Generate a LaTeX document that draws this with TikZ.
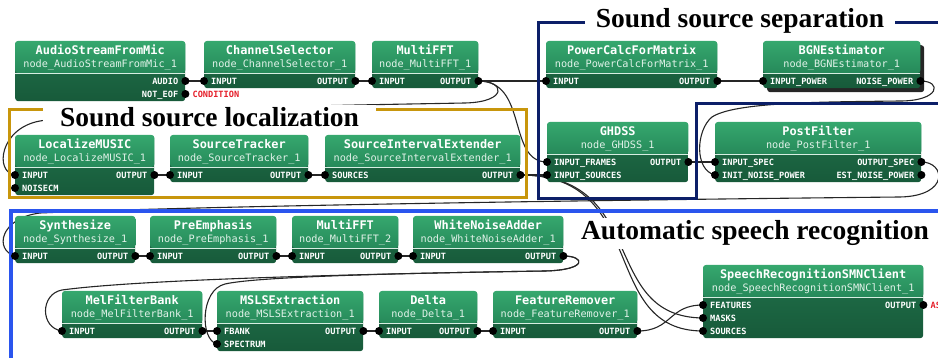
\documentclass[tikz,border=0pt]{standalone}
\usepackage{fontspec}
\setmonofont{DejaVu Sans Mono}
\newfontfamily\grpfont{Liberation Serif}
\usetikzlibrary{shadows}
\definecolor{headtop}{HTML}{36A86E}
\definecolor{headbot}{HTML}{26895A}
\definecolor{bodytop}{HTML}{21724B}
\definecolor{bodybot}{HTML}{175A3A}
\definecolor{locgold}{HTML}{C8960C}
\definecolor{sepnavy}{HTML}{0C1F68}
\definecolor{asrblue}{HTML}{2A55EE}
\definecolor{condred}{HTML}{E5202B}
\pgfdeclarelayer{wires}
\pgfsetlayers{wires,main}
\tikzset{
	blockbody/.style={rounded corners=3pt, top color=bodytop, bottom color=bodybot, anchor=north west, inner sep=0pt},
	blockhead/.style={rounded corners=3pt, top color=headtop, bottom color=headbot},
	sepline/.style={draw=white!80!headtop, line width=0.9pt},
	blocktitle/.style={text=white, font=\ttfamily\bfseries\fontsize{11.9}{12}\selectfont, anchor=base, inner sep=0pt},
	blocksub/.style={text=white!85!headtop, font=\ttfamily\fontsize{10.2}{11}\selectfont, anchor=base, inner sep=0pt},
	portdot/.style={circle, fill=black, inner sep=0pt, minimum size=8pt},
	portlabel/.style={text=white, font=\ttfamily\bfseries\fontsize{8.6}{9}\selectfont, inner sep=0pt},
	wire/.style={draw=black!85, line width=1.1pt},
	grplabel/.style={font=\grpfont\bfseries\fontsize{27.5}{30}\selectfont, anchor=base, fill=white, inner ysep=3pt},
}
\newcommand{\hblock}[8][]{%
	\pgfmathsetmacro{\blockh}{34+13*#6}
	\node[blockbody, minimum width=#5pt, minimum height=\blockh pt, #1] (#2) at (#3,#4) {};
	\path[blockhead] ([yshift=-32pt]#2.north west) -- (#2.north west) -- (#2.north east) -- ([yshift=-32pt]#2.north east) -- cycle;
	\draw[sepline] ([yshift=-32pt]#2.north west) -- ([yshift=-32pt]#2.north east);
	\node[blocktitle] at ([yshift=-14pt]#2.north) {#7};
	\node[blocksub] at ([yshift=-26.5pt]#2.north) {#8};
}
\newcommand{\inport}[4]{%
	\pgfmathsetmacro{\porty}{27+13*#2}
	\node[portdot] (#3) at ([yshift=-\porty pt]#1.north west) {};
	\node[portlabel, anchor=base west] (#3-t) at ([xshift=7pt, yshift=-3.5pt]#3.center) {#4};
}
\newcommand{\outport}[4]{%
	\pgfmathsetmacro{\porty}{27+13*#2}
	\node[portdot] (#3) at ([yshift=-\porty pt]#1.north east) {};
	\node[portlabel, anchor=base east] (#3-t) at ([xshift=-7pt, yshift=-3.5pt]#3.center) {#4};
}
\begin{document}
\begin{tikzpicture}[x=1pt,y=-1pt]
	\useasboundingbox (0,0) rectangle (938,358);
	\draw[locgold, line width=3pt] (9.5,109.5) rectangle (526,198);
	\node[grplabel, inner xsep=17pt] (loclabel) at (209.5,127) {Sound source localization};
	\draw[sepnavy, line width=3pt] (945,22.5) -- (538,22.5) -- (538,198.5) -- (696.5,198.5) -- (696.5,104) -- (945,104);
	\node[grplabel, inner xsep=11pt] (seplabel) at (740,28) {Sound source separation};
	\draw[asrblue, line width=4pt] (10.5,365) -- (10.5,211) -- (945,211);
	\node[grplabel, inner xsep=2pt] (asrlabel) at (755,240) {Automatic speech recognition};
	\hblock{mic}{15}{41}{170}{2}{AudioStreamFromMic}{node\_AudioStreamFromMic\_1}
	\outport{mic}{1}{mic-audio}{AUDIO}
	\outport{mic}{2}{mic-eof}{NOT\_EOF}
	\node[portlabel, text=condred, anchor=base west] (cond) at ([xshift=7pt, yshift=-3.5pt]mic-eof.center) {CONDITION};
	\hblock{chsel}{204}{41}{151}{1}{ChannelSelector}{node\_ChannelSelector\_1}
	\inport{chsel}{1}{chsel-in}{INPUT}
	\outport{chsel}{1}{chsel-out}{OUTPUT}
	\hblock{fftone}{372}{41}{106}{1}{MultiFFT}{node\_MultiFFT\_1}
	\inport{fftone}{1}{fftone-in}{INPUT}
	\outport{fftone}{1}{fftone-out}{OUTPUT}
	\hblock{pcm}{546}{41}{171}{1}{PowerCalcForMatrix}{node\_PowerCalcForMatrix\_1}
	\inport{pcm}{1}{pcm-in}{INPUT}
	\outport{pcm}{1}{pcm-out}{OUTPUT}
	\hblock[drop shadow={shadow xshift=4pt, shadow yshift=-4pt, fill=black, opacity=0.85}]{bgn}{763}{41}{157}{1}{BGNEstimator}{node\_BGNEstimator\_1}
	\inport{bgn}{1}{bgn-in}{INPUT\_POWER}
	\outport{bgn}{1}{bgn-out}{NOISE\_POWER}
	\hblock{music}{15}{135}{139}{2}{LocalizeMUSIC}{node\_LocalizeMUSIC\_1}
	\inport{music}{1}{music-in}{INPUT}
	\inport{music}{2}{music-ncm}{NOISECM}
	\outport{music}{1}{music-out}{OUTPUT}
	\hblock{track}{170}{135}{138}{1}{SourceTracker}{node\_SourceTracker\_1}
	\inport{track}{1}{track-in}{INPUT}
	\outport{track}{1}{track-out}{OUTPUT}
	\hblock{sie}{325}{135}{195}{1}{SourceIntervalExtender}{node\_SourceIntervalExtender\_1}
	\inport{sie}{1}{sie-in}{SOURCES}
	\outport{sie}{1}{sie-out}{OUTPUT}
	\hblock{ghdss}{547}{122}{141}{2}{GHDSS}{node\_GHDSS\_1}
	\inport{ghdss}{1}{ghdss-fr}{INPUT\_FRAMES}
	\inport{ghdss}{2}{ghdss-src}{INPUT\_SOURCES}
	\outport{ghdss}{1}{ghdss-out}{OUTPUT}
	\hblock{pf}{715}{122}{206}{2}{PostFilter}{node\_PostFilter\_1}
	\inport{pf}{1}{pf-spec}{INPUT\_SPEC}
	\inport{pf}{2}{pf-init}{INIT\_NOISE\_POWER}
	\outport{pf}{1}{pf-out}{OUTPUT\_SPEC}
	\outport{pf}{2}{pf-est}{EST\_NOISE\_POWER}
	\hblock{syn}{15}{216}{120}{1}{Synthesize}{node\_Synthesize\_1}
	\inport{syn}{1}{syn-in}{INPUT}
	\outport{syn}{1}{syn-out}{OUTPUT}
	\hblock{pre}{150}{216}{126}{1}{PreEmphasis}{node\_PreEmphasis\_1}
	\inport{pre}{1}{pre-in}{INPUT}
	\outport{pre}{1}{pre-out}{OUTPUT}
	\hblock{ffttwo}{292}{216}{106}{1}{MultiFFT}{node\_MultiFFT\_2}
	\inport{ffttwo}{1}{ffttwo-in}{INPUT}
	\outport{ffttwo}{1}{ffttwo-out}{OUTPUT}
	\hblock{wna}{413}{216}{150}{1}{WhiteNoiseAdder}{node\_WhiteNoiseAdder\_1}
	\inport{wna}{1}{wna-in}{INPUT}
	\outport{wna}{1}{wna-out}{OUTPUT}
	\hblock{mel}{62}{291}{140}{1}{MelFilterBank}{node\_MelFilterBank\_1}
	\inport{mel}{1}{mel-in}{INPUT}
	\outport{mel}{1}{mel-out}{OUTPUT}
	\hblock{msls}{217}{291}{146}{2}{MSLSExtraction}{node\_MSLSExtraction\_1}
	\inport{msls}{1}{msls-fb}{FBANK}
	\inport{msls}{2}{msls-sp}{SPECTRUM}
	\outport{msls}{1}{msls-out}{OUTPUT}
	\hblock{delta}{379}{291}{98}{1}{Delta}{node\_Delta\_1}
	\inport{delta}{1}{delta-in}{INPUT}
	\outport{delta}{1}{delta-out}{OUTPUT}
	\hblock{frm}{493}{291}{144}{1}{FeatureRemover}{node\_FeatureRemover\_1}
	\inport{frm}{1}{frm-in}{INPUT}
	\outport{frm}{1}{frm-out}{OUTPUT}
	\hblock{smn}{703}{265}{220}{3}{SpeechRecognitionSMNClient}{node\_SpeechRecognitionSMNClient\_1}
	\inport{smn}{1}{smn-feat}{FEATURES}
	\inport{smn}{2}{smn-mask}{MASKS}
	\inport{smn}{3}{smn-src}{SOURCES}
	\outport{smn}{1}{smn-out}{OUTPUT}
	\node[portlabel, text=condred, anchor=base west] (asr) at ([xshift=7pt, yshift=-3.5pt]smn-out.center) {AS};
	\begin{pgfonlayer}{wires}
		\draw[wire] (mic-audio.center) -- (chsel-in.center);
		\draw[wire] (chsel-out.center) -- (fftone-in.center);
		\draw[wire] (fftone-out.center) -- (pcm-in.center);
		\draw[wire] (fftone-out.center) .. controls +(27,0) and (508,102) .. (465,103) .. controls (360,105) and (120,108) .. (40,121) .. controls (0,128) and (-6,172) .. (music-in.center);
		\draw[wire] (fftone-out.center) .. controls +(50,0) and +(-40,0) .. (ghdss-fr.center);
		\draw[wire] (pcm-out.center) .. controls +(20,0) and +(-20,0) .. (bgn-in.center);
		\draw[wire] (bgn-out.center) .. controls +(22,0) and (940,101) .. (900,101) .. controls (820,102) and (735,102) .. (712,117) .. controls (696,130) and (694,170) .. (pf-init.center);
		\draw[wire] (ghdss-out.center) -- (pf-spec.center);
		\draw[wire] (pf-out.center) .. controls +(24,0) and (950,196) .. (900,197) .. controls (600,200) and (200,206) .. (40,213) .. controls (0,218) and (-6,250) .. (syn-in.center);
		\draw[wire] (music-out.center) -- (track-in.center);
		\draw[wire] (track-out.center) -- (sie-in.center);
		\draw[wire] (sie-out.center) -- (ghdss-src.center);
		\draw[wire] (sie-out.center) .. controls (650,175) and (598,331) .. (smn-src.center);
		\draw[wire] (sie-out.center) .. controls (650,175) and (598,317) .. (smn-mask.center);
		\draw[wire] (syn-out.center) -- (pre-in.center);
		\draw[wire] (pre-out.center) -- (ffttwo-in.center);
		\draw[wire] (ffttwo-out.center) -- (wna-in.center);
		\draw[wire] (wna-out.center) .. controls +(22,0) and (588,270) .. (545,271) .. controls (420,273) and (150,278) .. (62,290) .. controls (40,294) and (40,328) .. (mel-in.center);
		\draw[wire] (wna-out.center) .. controls +(22,0) and (588,270) .. (545,271) .. controls (420,273) and (260,276) .. (225,284) .. controls (200,290) and (200,340) .. (msls-sp.center);
		\draw[wire] (mel-out.center) -- (msls-fb.center);
		\draw[wire] (msls-out.center) -- (delta-in.center);
		\draw[wire] (delta-out.center) -- (frm-in.center);
		\draw[wire] (frm-out.center) .. controls +(35,0) and +(-35,0) .. (smn-feat.center);
	\end{pgfonlayer}
\end{tikzpicture}
\end{document}
